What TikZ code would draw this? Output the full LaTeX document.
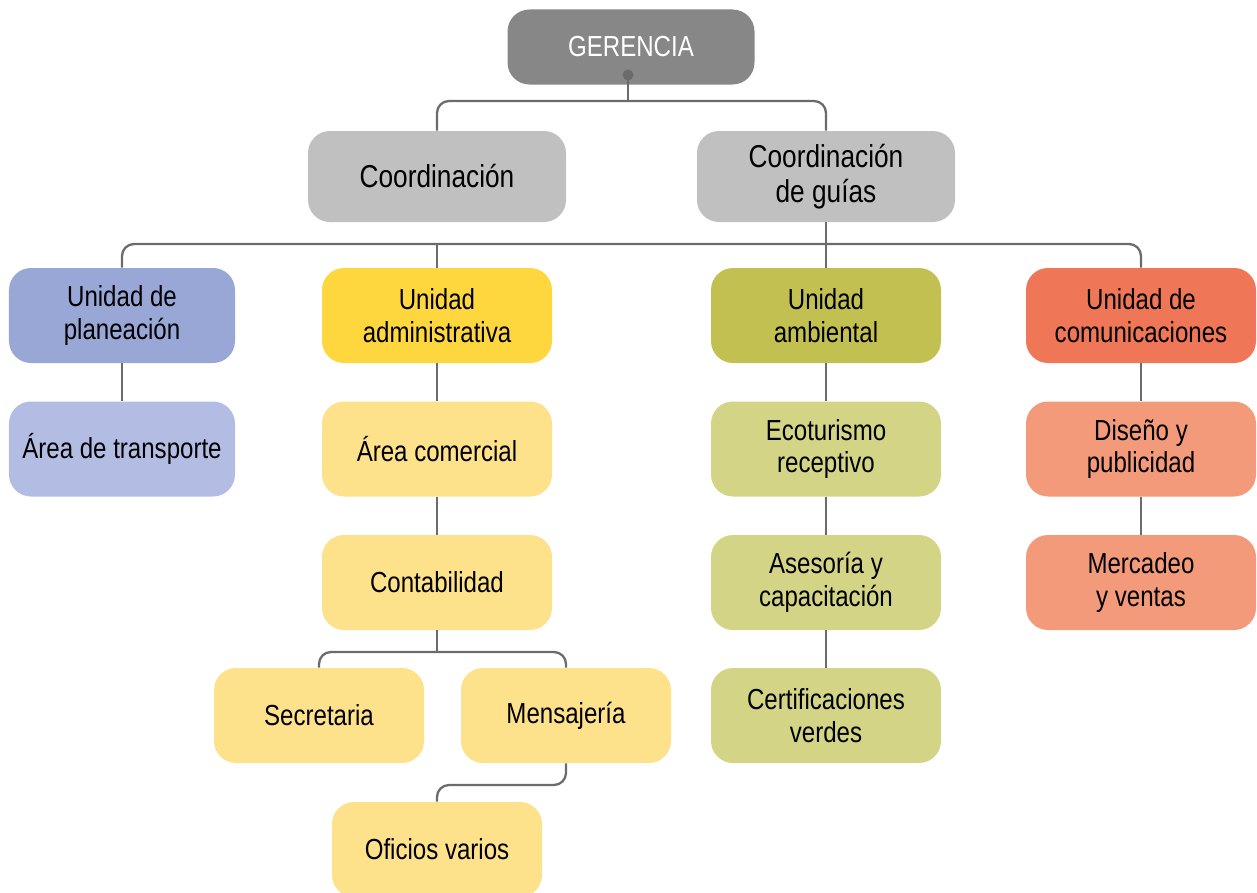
\documentclass[tikz,border=0pt]{standalone}
\usepackage{fontspec}
\setmainfont{Liberation Sans}[FakeStretch=0.83]
\usepackage{xcolor}
\usetikzlibrary{positioning}
\definecolor{OrgGer}{HTML}{878787}
\definecolor{OrgCoord}{HTML}{C0C0C0}
\definecolor{OrgPlan}{HTML}{98A7D5}
\definecolor{OrgPlanL}{HTML}{B3BDE3}
\definecolor{OrgAdm}{HTML}{FED73F}
\definecolor{OrgAdmL}{HTML}{FEE18B}
\definecolor{OrgAmb}{HTML}{C2C050}
\definecolor{OrgAmbL}{HTML}{D4D487}
\definecolor{OrgCom}{HTML}{EF7656}
\definecolor{OrgComL}{HTML}{F39A7B}
\definecolor{OrgLine}{HTML}{6B6B6B}

\begin{document}
\begin{tikzpicture}[x=0.2mm, y=-0.2mm,
          ob/.style={rectangle, rounded corners=4.4mm, minimum width=46mm,
                     minimum height=19mm, inner sep=0pt, align=center,
                     font=\fontsize{16.5}{18.5}\selectfont},
          cb/.style={ob, fill=OrgCoord, minimum width=51.6mm,
                     minimum height=18.2mm,
                     font=\fontsize{18}{20}\selectfont},
          lnk/.style={draw=OrgLine, line width=1.3pt, rounded corners=2.4mm}
        ]
        \useasboundingbox (0,0) rectangle (1257,893);

        % Top
        \node[ob, fill=OrgGer, text=white, minimum width=49.4mm,
              minimum height=15mm] (ger) at (631,47) {GERENCIA};
        \node[cb] (coord) at (437,176.5) {Coordinación};
        \node[cb] (guias) at (826,176.5) {Coordinación\\de guías};

        % Units
        \node[ob, fill=OrgPlan, minimum width=45.2mm] (plan) at (122,315.5)
              {Unidad de\\planeación};
        \node[ob, fill=OrgAdm]  (adm)  at (437,315.5) {Unidad\\administrativa};
        \node[ob, fill=OrgAmb]  (amb)  at (826,315.5) {Unidad\\ambiental};
        \node[ob, fill=OrgCom]  (comu) at (1141,315.5) {Unidad de\\comunicaciones};

        % Planeacion
        \node[ob, fill=OrgPlanL, minimum width=45.2mm] (transp) at (122,449)
              {Área de transporte};

        % Administrativa
        \node[ob, fill=OrgAdmL] (comer) at (437,449) {Área comercial};
        \node[ob, fill=OrgAdmL] (conta) at (437,582.5) {Contabilidad};
        \node[ob, fill=OrgAdmL, minimum width=42mm] (secr) at (319,715.5)
              {Secretaria};
        \node[ob, fill=OrgAdmL, minimum width=42mm] (mens) at (566,715.5)
              {Mensajería};
        \node[ob, fill=OrgAdmL, minimum width=42mm] (ofic) at (437,849.5)
              {Oficios varios};

        % Ambiental
        \node[ob, fill=OrgAmbL] (eco)  at (826,449)   {Ecoturismo\\receptivo};
        \node[ob, fill=OrgAmbL] (ases) at (826,582.5) {Asesoría y\\capacitación};
        \node[ob, fill=OrgAmbL] (cert) at (826,715.5) {Certificaciones\\verdes};

        % Comunicaciones
        \node[ob, fill=OrgComL] (dise) at (1141,449)   {Diseño y\\publicidad};
        \node[ob, fill=OrgComL] (merc) at (1141,582.5) {Mercadeo\\y ventas};

        % Connectors
        \coordinate (gdot) at (628,75);
        \coordinate (gbus) at (628,101);
        \coordinate (ubus) at (630,244);
        \coordinate (cbus) at (437,652);
        \coordinate (obus) at (437,785);

        \draw[lnk] (gdot) -- (gbus);
        \fill[OrgLine] (gdot) circle (1.1mm);
        \draw[lnk] (coord.north) |- (gbus) -| (guias.north);

        \draw[lnk] (plan.north) |- (ubus) -| (comu.north);
        \draw[lnk] (adm.north |- ubus) -- (adm.north);
        \draw[lnk] (guias.south) -- (amb.north);

        \draw[lnk] (plan)  -- (transp);
        \draw[lnk] (adm)   -- (comer);
        \draw[lnk] (comer) -- (conta);
        \draw[lnk] (conta.south) -- (cbus);
        \draw[lnk] (secr.north) |- (cbus) -| (mens.north);
        \draw[lnk] (mens.south) |- (obus) -- (ofic.north);

        \draw[lnk] (amb)  -- (eco);
        \draw[lnk] (eco)  -- (ases);
        \draw[lnk] (ases) -- (cert);

        \draw[lnk] (comu) -- (dise);
        \draw[lnk] (dise) -- (merc);
      \end{tikzpicture}
\end{document}
